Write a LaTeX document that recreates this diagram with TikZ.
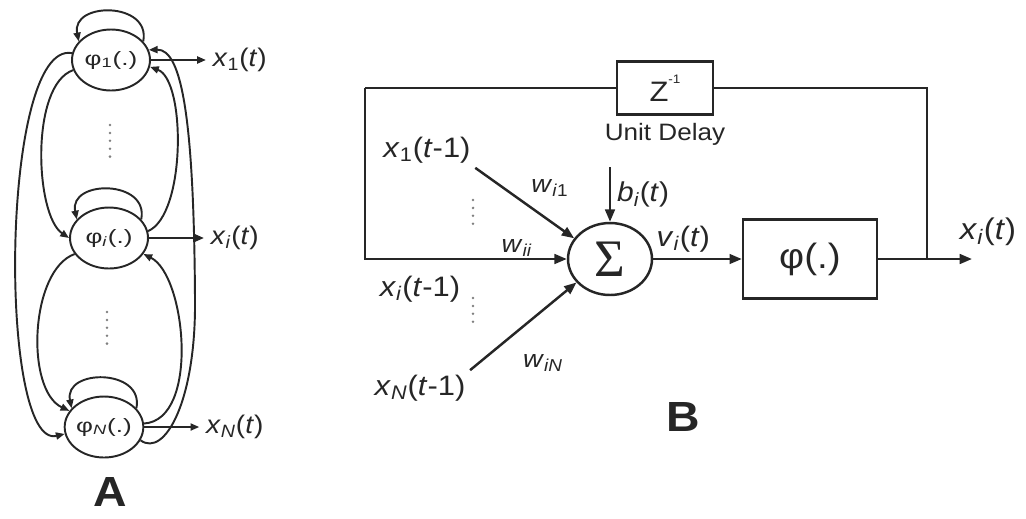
\documentclass[tikz,border=0pt]{standalone}
\usepackage{fontspec}
\setmainfont[FakeStretch=1.1]{Liberation Sans}
\newfontfamily\widesans[FakeStretch=1.35]{Liberation Sans}
\newfontfamily\serifsum{Liberation Serif}
\usepackage{tikz}
\usetikzlibrary{arrows.meta,shapes.geometric,positioning}
\newcommand{\tsig}[3]{\textit{#1}\textsubscript{#2}(\textit{t}#3)}

\begin{document}
\begin{tikzpicture}[x=0.02cm,y=-0.02cm,color=black!85,line width=1.1pt,
  >={Triangle[length=5pt,width=4pt]},
  unit/.style={draw,ellipse,minimum width=1.56cm,minimum height=1.22cm,inner sep=0pt,
    font=\widesans\fontsize{11}{13}\selectfont},
  outlbl/.style={font=\fontsize{14.5}{17}\selectfont},
  vdots/.style={gray,line width=1.6pt,line cap=round,dash pattern=on 0pt off 4.5pt},
  blk/.style={draw,rectangle,inner sep=0pt},
  insig/.style={inner sep=2pt,font=\fontsize{16}{19}\selectfont},
  wlbl/.style={font=\fontsize{14}{16}\selectfont},
  tag/.style={font=\fontsize{24}{28}\selectfont\bfseries}]
\useasboundingbox (0,0) rectangle (1026,518);
% network
\node[unit] (n1) at (111,60) {φ\textsubscript{1}(.)};
\node[unit] (ni) at (109,238) {φ\textsubscript{\textit{i}}(.)};
\node[unit] (nN) at (104,427) {φ\textsubscript{\textit{N}}(.)};
\foreach \n/\s in {n1/1,ni/\textit{i},nN/\textit{N}} {
  \draw[->] (\n.30) .. controls +(8,-40) and +(-8,-40) .. (\n.150);
  \node[outlbl,right=1.1cm of \n] (o\n) {\tsig{x}{\s}{}};
  \draw[->] (\n) -- (o\n);
}
\draw[vdots] (110,125) -- (110,158);
\draw[vdots] (107,312) -- (107,348);
\draw[->] (n1.170) .. controls (0,40) and (-2,450) .. (nN.190);
\draw[->] (n1.195) .. controls (30,85) and (35,215) .. (ni.180);
\draw[->] (ni.205) .. controls (30,270) and (25,390) .. (nN.155);
\draw[->] (ni.10) .. controls (186,215) and (186,80) .. (n1.-10);
\draw[->] (nN.5) .. controls (200,420) and (186,275) .. (ni.-25);
\draw[->] (nN.-20) .. controls (165,458) and (196,400) .. (195,300)
  .. controls (194,120) and (182,49) .. (n1.15);
\node[tag] (tagA) at (110,492) {A};
% single neuron
\begin{scope}[line width=1.4pt,>={Triangle[length=7pt,width=5.5pt]}]
\node[blk,minimum width=1.92cm,minimum height=1.06cm,font=\fontsize{16}{19}\selectfont]
  (delay) at (665,88) {Z\raisebox{1.2ex}{\fontsize{7}{7}\selectfont -1}};
\node[below=0pt of delay,font=\fontsize{13.5}{16}\selectfont] (udl) {Unit Delay};
\node[draw,ellipse,minimum width=1.68cm,minimum height=1.44cm,inner sep=0pt,
  font=\serifsum\fontsize{30}{30}\selectfont] (sum) at (610,259) {Σ};
\node[blk,minimum width=2.68cm,minimum height=1.58cm,font=\fontsize{20}{24}\selectfont]
  (phi) at (810,259) {φ(.)};
\coordinate (fbl) at (365,88);
\coordinate (fbr) at (927,88);
\coordinate (tap) at (927,259);
\coordinate (yend) at (972,259);
\coordinate (btop) at (610,167);
\draw (delay.west) -- (fbl);
\draw[->] (fbl) |- (sum.west);
\draw (delay.east) -- (fbr) -- (tap);
\draw[->] (sum) -- node[pos=0.34,above,font=\fontsize{16}{19}\selectfont] {\tsig{v}{\textit{i}}{}} (phi);
\draw[->] (phi) -- (yend);
\node[font=\fontsize{17}{20}\selectfont] (xout) at (988,232) {\tsig{x}{\textit{i}}{}};
\draw[->] (btop) -- node[right,font=\fontsize{15.5}{18}\selectfont] {\tsig{b}{\textit{i}}{}} (sum);
\node[insig] (in1) at (427,150) {\tsig{x}{1}{-1}};
\node[insig] (ini) at (420,289) {\tsig{x}{\textit{i}}{-1}};
\node[insig] (inN) at (420,388) {\tsig{x}{\textit{N}}{-1}};
\draw[->] (in1.south east) -- (sum.150);
\draw[->] (inN.north east) -- (sum.215);
\node[wlbl] (w1) at (550,188) {\textit{w}\textsubscript{\textit{i}1}};
\node[wlbl] (wi) at (517,248) {\textit{w}\textsubscript{\textit{ii}}};
\node[wlbl] (wN) at (543,363) {\textit{w}\textsubscript{\textit{iN}}};
\draw[vdots] (473,200) -- (473,228);
\draw[vdots] (473,298) -- (473,326);
\end{scope}
\node[tag] (tagB) at (683,417) {B};
\end{tikzpicture}
\end{document}
